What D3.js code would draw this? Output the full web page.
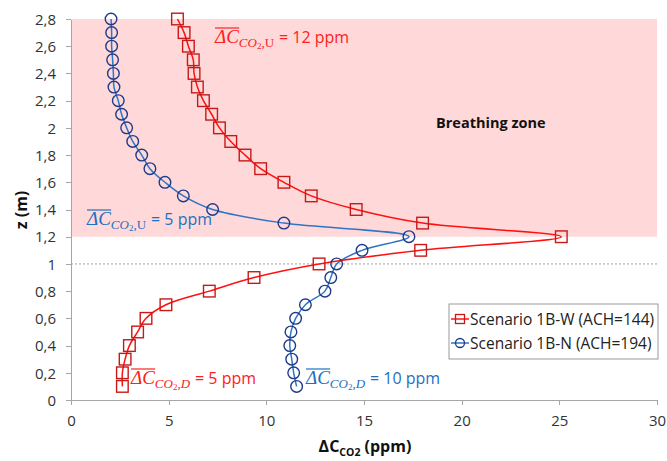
<!DOCTYPE html>
<html>
<head>
<meta charset="utf-8">
<script src="https://d3js.org/d3.v7.min.js"></script>
<style>
  body { margin: 0; background: #fff; }
  svg { font-family: "Open Sans", sans-serif; }
  .axis path, .axis line { stroke: #a6a6a6; shape-rendering: crispEdges; }
  .axis text { font-size: 15px; fill: #333; font-family: "Open Sans", sans-serif; }
</style>
</head>
<body>
<svg id="chart" width="667" height="461"></svg>
<script>
// heights (m)
var zLevels = [0.1, 0.2, 0.3, 0.4, 0.5, 0.6, 0.7, 0.8, 0.9, 1.0, 1.1, 1.2, 1.3, 1.4,
               1.5, 1.6, 1.7, 1.8, 1.9, 2.0, 2.1, 2.2, 2.3, 2.4, 2.5, 2.6, 2.7, 2.8];
// Scenario 1B-W (ACH=144), delta CO2 in ppm
var scenarioW = [2.63, 2.63, 2.77, 2.99, 3.41, 3.84, 4.86, 7.08, 9.37, 12.7, 17.9, 25.1, 18.0, 14.6,
                 12.3, 10.9, 9.71, 8.91, 8.18, 7.6, 7.2, 6.78, 6.47, 6.3, 6.26, 6.01, 5.79, 5.45];
// Scenario 1B-N (ACH=194)
var scenarioN = [11.55, 11.4, 11.3, 11.2, 11.26, 11.5, 12.0, 13.0, 13.3, 13.6, 14.9, 17.3, 10.9, 7.25,
                 5.75, 4.81, 4.04, 3.62, 3.16, 2.85, 2.59, 2.42, 2.2, 2.17, 2.13, 2.08, 2.08, 2.05];

var xTicks = [0, 5, 10, 15, 20, 25, 30];
var yTicks = [0, 0.2, 0.4, 0.6, 0.8, 1, 1.2, 1.4, 1.6, 1.8, 2, 2.2, 2.4, 2.6, 2.8];
var breathingZone = [1.2, 2.8];
var seriesNames = ["Scenario 1B-W (ACH=144)", "Scenario 1B-N (ACH=194)"];

var margin = {top: 19, right: 10, bottom: 61, left: 71},
    width = 667 - margin.left - margin.right,
    height = 461 - margin.top - margin.bottom;

var svg = d3.select("#chart");
var g = svg.append("g")
    .attr("transform", "translate(" + margin.left + "," + margin.top + ")");

var x = d3.scaleLinear().domain([0, 30]).range([0, 586]);
var y = d3.scaleLinear().domain([0, 2.8]).range([height, 0]);

// breathing zone
g.append("rect")
    .attr("x", x(0))
    .attr("y", y(breathingZone[1]))
    .attr("width", x(30) - x(0))
    .attr("height", y(breathingZone[0]) - y(breathingZone[1]))
    .attr("fill", "#ffd9d9");

g.append("text")
    .attr("x", 365)
    .attr("y", 109)
    .attr("font-size", 14.5)
    .attr("font-weight", "bold")
    .attr("fill", "#111")
    .text("Breathing zone");

// z = 1 reference
g.append("line")
    .attr("x1", x(0)).attr("x2", x(30))
    .attr("y1", y(1)).attr("y2", y(1))
    .attr("stroke", "#a0a0a0")
    .attr("stroke-width", 1)
    .attr("stroke-dasharray", "2,2");

// axes
var xAxis = g.append("g")
    .attr("class", "axis")
    .attr("transform", "translate(0," + height + ")")
    .call(d3.axisBottom(x).tickValues(xTicks).tickSize(5).tickSizeOuter(0));
xAxis.selectAll("text").attr("dy", "1.2em");

var fmt = function(d) { return String(d).replace(".", ","); };
var yAxis = g.append("g")
    .attr("class", "axis")
    .call(d3.axisLeft(y).tickValues(yTicks).tickFormat(fmt).tickSize(5).tickSizeOuter(0));
yAxis.selectAll("text").attr("x", -15).attr("dy", "0.35em");

// axis titles
var xt = svg.append("text")
    .attr("x", 365)
    .attr("y", 452)
    .attr("text-anchor", "middle")
    .attr("font-size", 16)
    .attr("font-weight", "bold")
    .attr("fill", "#111");
xt.append("tspan").text("ΔC");
xt.append("tspan").attr("font-size", 10.5).attr("dy", 4).text("CO2");
xt.append("tspan").attr("dy", -4).text(" (ppm)");

svg.append("text")
    .attr("transform", "translate(27,210) rotate(-90)")
    .attr("text-anchor", "middle")
    .attr("font-size", 16)
    .attr("font-weight", "bold")
    .attr("fill", "#111")
    .text("z (m)");

// series
var line = d3.line()
    .x(function(d) { return x(d[0]); })
    .y(function(d) { return y(d[1]); })
    .curve(d3.curveCatmullRom.alpha(0.5));

var dataW = zLevels.map(function(z, i) { return [scenarioW[i], z]; });
var dataN = zLevels.map(function(z, i) { return [scenarioN[i], z]; });

g.append("path")
    .datum(dataN)
    .attr("fill", "none")
    .attr("stroke", "#2e75c6")
    .attr("stroke-width", 1.5)
    .attr("d", line);

g.append("path")
    .datum(dataW)
    .attr("fill", "none")
    .attr("stroke", "#ff1010")
    .attr("stroke-width", 1.5)
    .attr("d", line);

g.selectAll(".ptN")
    .data(dataN)
  .enter().append("circle")
    .attr("class", "ptN")
    .attr("cx", function(d) { return x(d[0]); })
    .attr("cy", function(d) { return y(d[1]); })
    .attr("r", 5.8)
    .attr("fill", "none")
    .attr("stroke", "#1f3a8a")
    .attr("stroke-width", 1.4);

g.selectAll(".ptW")
    .data(dataW)
  .enter().append("rect")
    .attr("class", "ptW")
    .attr("x", function(d) { return x(d[0]) - 5.8; })
    .attr("y", function(d) { return y(d[1]) - 5.8; })
    .attr("width", 11.6)
    .attr("height", 11.6)
    .attr("fill", "none")
    .attr("stroke", "#c81818")
    .attr("stroke-width", 1.4);

// annotations: mean delta C with overline
function annot(px, py, color, sub, tail) {
  var serif = "'Liberation Serif', serif";
  var t = svg.append("text")
      .attr("x", px).attr("y", py)
      .attr("fill", color)
      .attr("font-size", 19);
  var main = t.append("tspan")
      .attr("font-family", serif)
      .attr("font-style", "italic")
      .text("ΔC");
  t.append("tspan")
      .attr("font-family", serif)
      .attr("font-style", "italic")
      .attr("font-size", 13)
      .attr("dy", 4)
      .text("CO");
  t.append("tspan")
      .attr("font-family", serif)
      .attr("font-size", 9)
      .attr("dy", 2)
      .text("2");
  t.append("tspan")
      .attr("font-family", serif)
      .attr("font-size", 13)
      .attr("font-style", sub === "D" ? "italic" : "normal")
      .attr("dy", -2)
      .text("," + sub);
  t.append("tspan")
      .attr("font-family", "'Open Sans', sans-serif")
      .attr("font-size", 16)
      .attr("dy", -4)
      .attr("dx", 5)
      .text(tail);
  var bb = main.node().getBBox();
  svg.append("line")
      .attr("x1", bb.x + 1).attr("x2", bb.x + bb.width)
      .attr("y1", bb.y + 2).attr("y2", bb.y + 2)
      .attr("stroke", color)
      .attr("stroke-width", 1.2);
}

annot(215, 43, "#ff2020", "U", "= 12 ppm");
annot(87, 225, "#1f70c1", "U", "= 5 ppm");
annot(131, 384, "#ff2020", "D", "= 5 ppm");
annot(306, 384, "#1f70c1", "D", "= 10 ppm");

// legend
var lg = svg.append("g").attr("transform", "translate(449,304)");
lg.append("rect")
    .attr("width", 209).attr("height", 55)
    .attr("fill", "#fff")
    .attr("stroke", "#9a9a9a");
var legendItems = [
  {name: seriesNames[0], line: "#ff1010", mark: "#c81818", shape: "square"},
  {name: seriesNames[1], line: "#2e75c6", mark: "#1f3a8a", shape: "circle"}
];
legendItems.forEach(function(d, i) {
  var cy = 15 + i * 24;
  lg.append("line")
      .attr("x1", 2).attr("x2", 20)
      .attr("y1", cy).attr("y2", cy)
      .attr("stroke", d.line).attr("stroke-width", 1.5);
  if (d.shape === "square") {
    lg.append("rect").attr("x", 6.5).attr("y", cy - 4.5).attr("width", 9).attr("height", 9)
        .attr("fill", "none").attr("stroke", d.mark).attr("stroke-width", 1.3);
  } else {
    lg.append("circle").attr("cx", 11).attr("cy", cy).attr("r", 4.5)
        .attr("fill", "none").attr("stroke", d.mark).attr("stroke-width", 1.3);
  }
  lg.append("text")
      .attr("x", 21).attr("y", cy + 5.5)
      .attr("font-size", 15.5)
      .attr("fill", "#222")
      .text(d.name);
});
</script>
</body>
</html>
